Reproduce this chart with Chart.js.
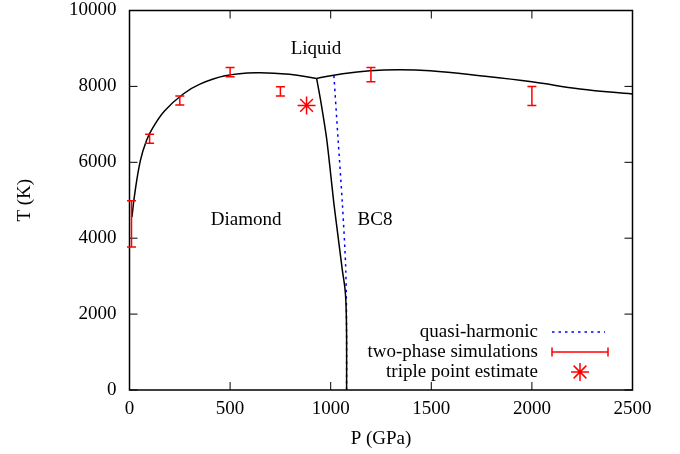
<!DOCTYPE html>
<html>
<head>
<meta charset="utf-8">
<script src="https://cdn.jsdelivr.net/npm/chart.js@4"></script>
<style>
  html, body { margin: 0; background: #fff; }
  #wrap { width: 680px; height: 454px; }
</style>
</head>
<body>
<div id="wrap"><canvas id="c"></canvas></div>
<script>
// diamond melting line
const diamondMeltP = [12, 26, 54, 84, 117, 175, 267, 350, 475, 630, 795, 930]
const diamondMeltT = [4555, 5170, 6045, 6570, 6920, 7360, 7800, 8060, 8280, 8360, 8320, 8210]
// BC8 melting line
const bc8MeltP = [930, 1060, 1195, 1344, 1494, 1742, 2000, 2239, 2500]
const bc8MeltT = [8210, 8335, 8415, 8440, 8410, 8280, 8120, 7930, 7800]
// diamond / BC8 boundary
const boundaryP = [930, 953, 979, 998, 1016, 1037, 1058, 1070, 1076, 1079, 1079]
const boundaryT = [8210, 7535, 6657, 5782, 4906, 4029, 3154, 2715, 2278, 1400, 0]
// quasi-harmonic boundary
const qhP = [1016, 1036, 1058, 1075, 1079, 1079]
const qhT = [8280, 6657, 4906, 3154, 1400, 0]
// two-phase simulations
const simP = [10, 100, 250, 500, 750, 1200, 2000]
const simT = [4380, 6620, 7630, 8375, 7870, 8310, 7750]
const simErr = [610, 120, 120, 120, 120, 190, 250]
// triple point estimate
const tripleP = [880]
const tripleT = [7500]
// region labels
const regionNames = ['Liquid', 'Diamond', 'BC8']
const regionP = [927, 580, 1220]
const regionT = [8990, 4470, 4470]

const FONT = 'Liberation Serif'
const pts = (xs, ys) => xs.map((x, i) => ({ x: x, y: ys[i] }))

const noPad = s => { s.paddingTop = 0; s.paddingBottom = 0; s.paddingLeft = 0; s.paddingRight = 0 }

const framePlugin = {
    id: 'frame',
    afterDatasetsDraw(chart) {
        const ctx = chart.ctx
        const a = chart.chartArea
        const xs = chart.scales.x, ys = chart.scales.y
        ctx.save()
        ctx.strokeStyle = '#000'
        ctx.lineWidth = 1.5
        ctx.strokeRect(a.left, a.top, a.right - a.left, a.bottom - a.top)
        ctx.lineWidth = 1
        ctx.beginPath()
        xs.ticks.forEach(t => {
            const px = xs.getPixelForValue(t.value)
            ctx.moveTo(px, a.bottom); ctx.lineTo(px, a.bottom - 8)
            ctx.moveTo(px, a.top); ctx.lineTo(px, a.top + 8)
        })
        ys.ticks.forEach(t => {
            const py = ys.getPixelForValue(t.value)
            ctx.moveTo(a.left, py); ctx.lineTo(a.left + 8, py)
            ctx.moveTo(a.right, py); ctx.lineTo(a.right - 8, py)
        })
        ctx.stroke()

        // error bars
        ctx.strokeStyle = '#ff0000'
        ctx.lineWidth = 1.5
        ctx.beginPath()
        simP.forEach((p, i) => {
            const px = xs.getPixelForValue(p)
            const lo = ys.getPixelForValue(simT[i] - simErr[i])
            const hi = ys.getPixelForValue(simT[i] + simErr[i])
            ctx.moveTo(px, lo); ctx.lineTo(px, hi)
            ctx.moveTo(px - 4.5, lo); ctx.lineTo(px + 4.5, lo)
            ctx.moveTo(px - 4.5, hi); ctx.lineTo(px + 4.5, hi)
        })
        ctx.stroke()

        // region labels
        ctx.fillStyle = '#000'
        ctx.font = '19px ' + FONT
        ctx.textAlign = 'center'
        ctx.textBaseline = 'middle'
        regionNames.forEach((n, i) => {
            ctx.fillText(n, xs.getPixelForValue(regionP[i]), ys.getPixelForValue(regionT[i]))
        })

        // key
        const tx = 538, sx0 = 552, sx1 = 608
        const rows = [332, 352, 372]
        ctx.textAlign = 'right'
        ctx.fillText('quasi-harmonic', tx, rows[0])
        ctx.fillText('two-phase simulations', tx, rows[1])
        ctx.fillText('triple point estimate', tx, rows[2])
        ctx.strokeStyle = '#0000ff'
        ctx.lineWidth = 1.5
        ctx.setLineDash([2.5, 4])
        ctx.beginPath(); ctx.moveTo(sx0, rows[0]); ctx.lineTo(sx1 - 3, rows[0]); ctx.stroke()
        ctx.setLineDash([])
        ctx.strokeStyle = '#ff0000'
        ctx.beginPath()
        ctx.moveTo(sx0, rows[1]); ctx.lineTo(sx1, rows[1])
        ctx.moveTo(sx0, rows[1] - 4.5); ctx.lineTo(sx0, rows[1] + 4.5)
        ctx.moveTo(sx1, rows[1] - 4.5); ctx.lineTo(sx1, rows[1] + 4.5)
        ctx.stroke()
        const cx = (sx0 + sx1) / 2, cy = rows[2], r = 9
        ctx.beginPath()
        ctx.moveTo(cx - r, cy); ctx.lineTo(cx + r, cy)
        ctx.moveTo(cx, cy - r); ctx.lineTo(cx, cy + r)
        const d = r * Math.SQRT1_2
        ctx.moveTo(cx - d, cy - d); ctx.lineTo(cx + d, cy + d)
        ctx.moveTo(cx - d, cy + d); ctx.lineTo(cx + d, cy - d)
        ctx.stroke()
        ctx.restore()
    }
}

new Chart(document.getElementById('c'), {
    type: 'scatter',
    data: {
        datasets: [
            {
                label: 'diamond melting',
                data: pts(diamondMeltP, diamondMeltT),
                showLine: true, borderColor: '#000', borderWidth: 1.5,
                pointRadius: 0, tension: 0.4
            },
            {
                label: 'BC8 melting',
                data: pts(bc8MeltP, bc8MeltT),
                showLine: true, borderColor: '#000', borderWidth: 1.5,
                pointRadius: 0, tension: 0.4
            },
            {
                label: 'diamond-BC8',
                data: pts(boundaryP, boundaryT),
                showLine: true, borderColor: '#000', borderWidth: 1.5,
                pointRadius: 0, tension: 0.3
            },
            {
                label: 'quasi-harmonic',
                data: pts(qhP, qhT),
                showLine: true, borderColor: '#0000ff', borderWidth: 1.5,
                borderDash: [2.5, 4], pointRadius: 0, tension: 0.3
            },
            {
                label: 'two-phase simulations',
                data: pts(simP, simT),
                pointRadius: 0
            },
            {
                label: 'triple point estimate',
                data: pts(tripleP, tripleT),
                pointStyle: 'star', pointRadius: 9, borderColor: '#ff0000',
                borderWidth: 1.5, backgroundColor: '#ff0000'
            }
        ]
    },
    options: {
        responsive: true,
        maintainAspectRatio: false,
        animation: false,
        devicePixelRatio: 1,
        layout: { padding: { left: 0, top: 9.5, right: 47.5, bottom: 0 } },
        plugins: { legend: { display: false }, tooltip: { enabled: false } },
        scales: {
            x: {
                type: 'linear', min: 0, max: 2500,
                ticks: { stepSize: 500, color: '#000', font: { family: FONT, size: 19 }, padding: 8, maxRotation: 0, callback: v => String(v) },
                grid: { display: false, drawTicks: false },
                border: { display: false },
                title: { display: true, text: 'P (GPa)', color: '#000', font: { family: FONT, size: 19 }, padding: { top: 0, bottom: 4 } },
                afterFit: s => { s.height = 64; noPad(s) }
            },
            y: {
                type: 'linear', min: 0, max: 10000,
                ticks: { stepSize: 2000, color: '#000', font: { family: FONT, size: 19 }, padding: 13, callback: v => String(v) },
                grid: { display: false, drawTicks: false },
                border: { display: false },
                title: { display: true, text: 'T (K)', color: '#000', font: { family: FONT, size: 19 }, padding: { top: 14, bottom: 0 } },
                afterFit: s => { s.width = 129.5; noPad(s) }
            }
        }
    },
    plugins: [framePlugin]
})
</script>
</body>
</html>
